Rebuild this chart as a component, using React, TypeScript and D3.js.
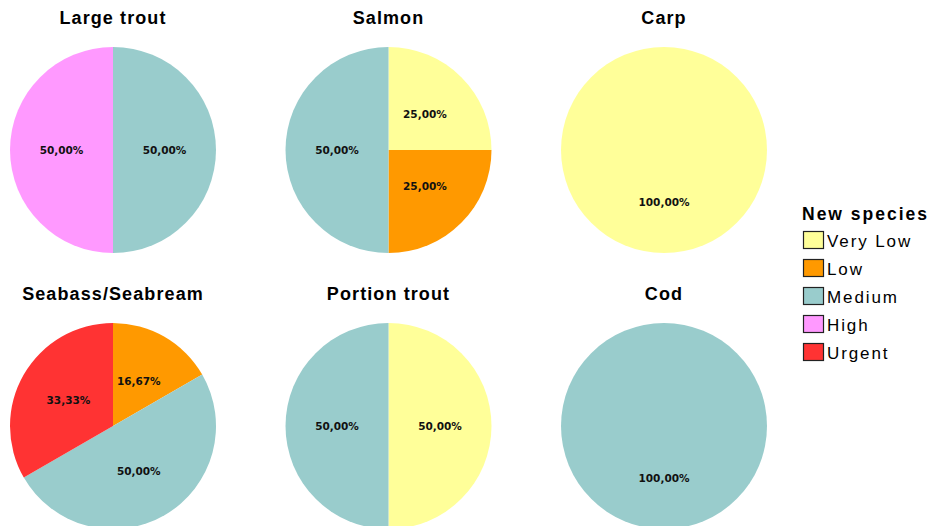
import { useEffect } from 'react';
import * as d3 from 'd3';

const WIDTH = 929;
const HEIGHT = 526;

// legend categories in drawing order
const CATEGORIES = ['Very Low', 'Low', 'Medium', 'High', 'Urgent'];
const CATEGORY_COLORS = ['#FFFF99', '#FF9900', '#99CCCC', '#FF99FF', '#FF3333'];

// one entry per pie; counts follow CATEGORIES order
const SPECIES = ['Large trout', 'Salmon', 'Carp', 'Seabass/Seabream', 'Portion trout', 'Cod'];
const LARGE_TROUT = [0, 0, 1, 1, 0];
const SALMON = [1, 1, 2, 0, 0];
const CARP = [1, 0, 0, 0, 0];
const SEABASS = [0, 1, 3, 0, 2];
const PORTION_TROUT = [1, 0, 1, 0, 0];
const COD = [0, 0, 1, 0, 0];
const SERIES = [LARGE_TROUT, SALMON, CARP, SEABASS, PORTION_TROUT, COD];

const LEGEND_TITLE = 'New species';

const fmtPct = (v: number) => d3.format('.2f')(v * 100).replace('.', ',') + '%';

export default function App() {
    useEffect(() => {
        document.body.style.margin = '0';
    }, []);

    const radius = 103;
    const col = d3.scalePoint<number>().domain([0, 1, 2]).range([113, 664]);
    const row = d3.scalePoint<number>().domain([0, 1]).range([150, 426]);

    const pie = d3.pie<number>().sort(null).value(d => d);
    const arc = d3.arc<d3.PieArcDatum<number>>().innerRadius(0).outerRadius(radius);

    const legendY = d3.scalePoint<string>().domain(CATEGORIES).range([240, 352]);

    return (
        <svg width={WIDTH} height={HEIGHT} style={{ display: 'block', background: '#fff' }}>
            {SPECIES.map((name, i) => {
                const cx = col(i % 3)!;
                const cy = row(Math.floor(i / 3))!;
                const values = SERIES[i];
                const total = d3.sum(values);
                const arcs = pie(values);
                return (
                    <g key={name}>
                        <text
                            x={cx}
                            y={cy - 132}
                            textAnchor="middle"
                            dominantBaseline="central"
                            style={{ fontFamily: 'Arial, "Liberation Sans", sans-serif', fontWeight: 'bold', fontSize: 18, letterSpacing: 1.1 }}
                            fill="#000"
                        >
                            {name}
                        </text>
                        <g transform={`translate(${cx},${cy})`}>
                            {arcs.map((a, j) =>
                                a.value > 0 ? (
                                    <path key={j} d={arc(a) || ''} fill={CATEGORY_COLORS[j]} />
                                ) : null
                            )}
                            {arcs.map((a, j) => {
                                if (a.value <= 0) return null;
                                const [lx, ly] = arc.centroid(a);
                                return (
                                    <text
                                        key={'l' + j}
                                        x={lx}
                                        y={ly}
                                        textAnchor="middle"
                                        dominantBaseline="central"
                                        style={{ fontFamily: '"DejaVu Sans", Verdana, sans-serif', fontWeight: 'bold', fontSize: 10.5 }}
                                        fill="#111"
                                    >
                                        {fmtPct(a.value / total)}
                                    </text>
                                );
                            })}
                        </g>
                    </g>
                );
            })}

            <g>
                <text
                    x={802}
                    y={214}
                    dominantBaseline="central"
                    style={{ fontFamily: 'Arial, "Liberation Sans", sans-serif', fontWeight: 'bold', fontSize: 17.5, letterSpacing: 2 }}
                    fill="#000"
                >
                    {LEGEND_TITLE}
                </text>
                {CATEGORIES.map((c, j) => {
                    const y = legendY(c)!;
                    return (
                        <g key={c}>
                            <rect x={803.5} y={y - 8.5} width={20} height={17} fill={CATEGORY_COLORS[j]} stroke="#222" strokeWidth={1.2} />
                            <text
                                x={827}
                                y={y + 1}
                                dominantBaseline="central"
                                style={{ fontFamily: 'Arial, "Liberation Sans", sans-serif', fontSize: 17, letterSpacing: 1.9 }}
                                fill="#000"
                            >
                                {c}
                            </text>
                        </g>
                    );
                })}
            </g>
        </svg>
    );
}
